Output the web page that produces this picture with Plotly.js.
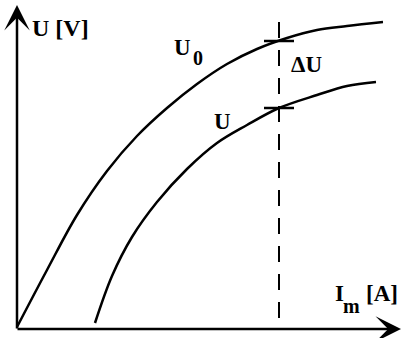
<!DOCTYPE html>
<html>
<head>
<meta charset="utf-8">
<script src="https://cdn.plot.ly/plotly-3.0.1.min.js"></script>
<style>
  html, body { margin: 0; padding: 0; background: #fff; }
  #chart { width: 403px; height: 338px; }
</style>
</head>
<body>
<div id="chart"></div>
<script>
/* ── data (arbitrary units, origin at the axes corner) ───── */
const imNoLoad = [0, 30, 60, 90, 120, 150, 180, 210, 240, 270, 300, 330, 366];
const uNoLoad  = [2, 59, 114, 158, 193, 221, 245, 265, 280, 291, 299, 303, 307];

const imLoad = [78, 95, 115, 140, 170, 200, 230, 262, 300, 330, 359];
const uLoad  = [6, 53, 92, 127, 160, 186, 204, 221, 234, 243, 247];

// operating point: current, U0 and U read at it
const opCurrent = 262;
const opU0 = 288;
const opU = 221;
const dashSpan = [9, 307];   // extent of the dashed marker

/* ── styling ─────────────────────────────────────────────── */
const INK = '#000';
const LABEL_FONT = { family: 'Liberation Serif, Times New Roman, serif', size: 23, color: INK, weight: 'bold' };
const SUB_FONT = { ...LABEL_FONT, size: 20 };
const TICK_HALF = 15;

const traces = [
  { x: imNoLoad, y: uNoLoad, type: 'scatter', mode: 'lines',
    line: { color: INK, width: 2.5, shape: 'spline', smoothing: 1 }, hoverinfo: 'skip' },
  { x: imLoad, y: uLoad, type: 'scatter', mode: 'lines',
    line: { color: INK, width: 2.5, shape: 'spline', smoothing: 1 }, hoverinfo: 'skip' },
  // dashed vertical at the operating current
  { x: [opCurrent, opCurrent], y: [dashSpan[1], dashSpan[0]], type: 'scatter', mode: 'lines',
    line: { color: INK, width: 2, dash: '16px,12px' }, hoverinfo: 'skip' },
  // short ticks where the dashed line crosses each curve
  { x: [opCurrent - TICK_HALF, opCurrent + TICK_HALF], y: [opU0, opU0], type: 'scatter', mode: 'lines',
    line: { color: INK, width: 2.5 }, hoverinfo: 'skip' },
  { x: [opCurrent - TICK_HALF, opCurrent + TICK_HALF], y: [opU, opU], type: 'scatter', mode: 'lines',
    line: { color: INK, width: 2.5 }, hoverinfo: 'skip' },
];

function label(text, x, y, font) {
  return { text, x, y, xref: 'x', yref: 'y', showarrow: false, font: font || LABEL_FONT,
           xanchor: 'center', yanchor: 'middle' };
}

function axisArrow(x, y, ax, ay) {
  return { x, y, ax, ay, xref: 'x', yref: 'y', axref: 'x', ayref: 'y', text: '',
           showarrow: true, arrowhead: 3, arrowsize: 1.7, arrowwidth: 2.5, arrowcolor: INK,
           standoff: 0, startstandoff: 0 };
}

const layout = {
  width: 403, height: 338,
  margin: { t: 0, b: 0, l: 0, r: 0 },
  paper_bgcolor: '#fff', plot_bgcolor: '#fff',
  showlegend: false,
  xaxis: { range: [-17, 386], visible: false, fixedrange: true },
  yaxis: { range: [-9, 329], visible: false, fixedrange: true },
  annotations: [
    axisArrow(0, 324, 0, -1),
    axisArrow(384, 0, -1, 0),
    label('U [V]', 43, 301, { ...LABEL_FONT, size: 24 }),
    label('U', 165, 282),
    label('0', 181, 271, SUB_FONT),
    label('ΔU', 289, 265),
    label('U', 205, 208),
    label('I', 322, 36),
    label('m', 334, 23, SUB_FONT),
    label('[A]', 365, 36),
  ],
};

Plotly.newPlot('chart', traces, layout, { displayModeBar: false, staticPlot: true });
</script>
</body>
</html>
